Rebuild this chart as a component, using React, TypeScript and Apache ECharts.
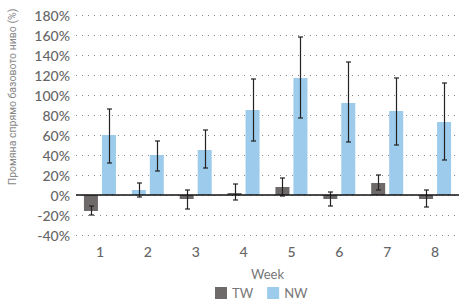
import React, { useEffect, useRef } from "react";
import * as echarts from "echarts";

const weeks = ["1", "2", "3", "4", "5", "6", "7", "8"];
const twValues = [-16, 5, -4, 2, 8, -4, 12, -4];
const twLow = [-20, -2, -14, -5, -1, -11, 5, -12];
const twHigh = [-11, 12, 5, 11, 17, 3, 20, 5];
const nwValues = [60, 40, 45, 85, 117, 92, 84, 73];
const nwLow = [32, 24, 27, 54, 77, 53, 50, 35];
const nwHigh = [86, 54, 65, 116, 158, 133, 117, 112];
const yTicks = { min: -40, max: 180, interval: 20 };

const TW_COLOR = "#6f6a6a";
const NW_COLOR = "#9ccbeb";
const BAR_W = 14;
const BAR_GAP = 4;

export default function App() {
  const ref = useRef<HTMLDivElement>(null);
  useEffect(() => {
    if (!ref.current) return;
    const chart = echarts.init(ref.current, undefined, { renderer: "svg" });
    const errData: number[][] = [];
    weeks.forEach((_, i) => {
      errData.push([i, twLow[i], twHigh[i], 0]);
      errData.push([i, nwLow[i], nwHigh[i], 1]);
    });
    const font = "Lato, 'Noto Sans', sans-serif";
    chart.setOption({
      animation: false,
      grid: { left: 76, right: -1, top: 15, bottom: 65 },
      legend: {
        data: ["TW", "NW"],
        left: 215,
        top: 286,
        padding: 0,
        itemWidth: 12,
        itemHeight: 12,
        itemGap: 14,
        icon: "rect",
        textStyle: { color: "#777", fontSize: 13, fontFamily: font, lineHeight: 14 },
      },
      xAxis: {
        type: "category",
        data: weeks,
        name: "Week",
        nameLocation: "middle",
        nameGap: 32,
        nameTextStyle: { color: "#777", fontSize: 13, fontFamily: font },
        axisLine: { show: false, onZero: false },
        axisTick: { show: false },
        axisLabel: { color: "#666", fontSize: 14, margin: 9, fontFamily: font, fontWeight: 500 },
      },
      yAxis: {
        type: "value",
        min: yTicks.min,
        max: yTicks.max,
        interval: yTicks.interval,
        axisLine: { show: false },
        axisTick: { show: false },
        axisLabel: {
          color: "#666",
          fontSize: 14,
          margin: 6,
          fontFamily: font,
          fontWeight: 500,
          formatter: (v: number) => v + "%",
        },
        splitLine: { lineStyle: { color: "#888", type: [1, 5], width: 1.2 } },
      },
      graphic: [
        {
          type: "text",
          x: 12,
          y: 97,
          rotation: Math.PI / 2,
          style: {
            text: "Промяна спрямо базовото ниво (%)",
            fill: "#888",
            fontSize: 10.5,
            fontFamily: "'Liberation Sans Narrow', 'Roboto', sans-serif",
            align: "center",
            verticalAlign: "middle",
          },
        },
      ],
      series: [
        {
          name: "TW",
          type: "bar",
          barWidth: BAR_W,
          barGap: (BAR_GAP / BAR_W) * 100 + "%",
          itemStyle: { color: TW_COLOR },
          data: twValues.map((v, i) =>
            i === 1 ? { value: v, itemStyle: { color: NW_COLOR } } : v
          ),
          markLine: {
            silent: true,
            symbol: "none",
            label: { show: false },
            lineStyle: { color: "#111", type: "solid", width: 1.5 },
            data: [{ yAxis: 0 }],
            z: 10,
          },
        },
        {
          name: "NW",
          type: "bar",
          barWidth: BAR_W,
          itemStyle: { color: NW_COLOR },
          data: nwValues,
        },
        {
          type: "custom",
          silent: true,
          z: 5,
          data: errData,
          renderItem: (params: any, api: any) => {
            const i = api.value(0);
            const s = api.value(3);
            const off = ((BAR_W + BAR_GAP) / 2) * (s === 0 ? -1 : 1);
            const lo = api.coord([i, api.value(1)]);
            const hi = api.coord([i, api.value(2)]);
            const x = Math.round(lo[0] + off) + 0.5;
            const cap = 2.5;
            const style = { stroke: "#222", lineWidth: 1.2 };
            return {
              type: "group",
              children: [
                { type: "line", shape: { x1: x, y1: hi[1], x2: x, y2: lo[1] }, style },
                { type: "line", shape: { x1: x - cap, y1: hi[1], x2: x + cap, y2: hi[1] }, style },
                { type: "line", shape: { x1: x - cap, y1: lo[1], x2: x + cap, y2: lo[1] }, style },
              ],
            };
          },
        },
      ],
    });
    return () => chart.dispose();
  }, []);
  return (
    <div
      ref={ref}
      style={{ position: "absolute", left: 0, top: 0, width: 459, height: 300 }}
    />
  );
}
